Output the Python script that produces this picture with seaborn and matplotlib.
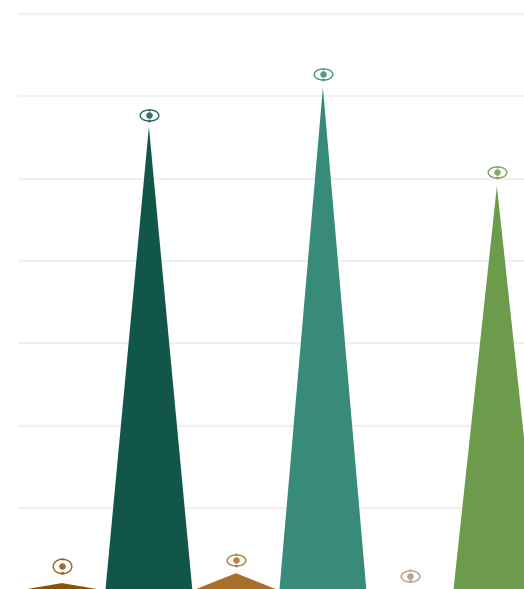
import matplotlib
matplotlib.use("Agg")
import matplotlib.pyplot as plt
import seaborn as sns
import pandas as pd
import numpy as np
from matplotlib.patches import Polygon
from matplotlib.path import Path
from matplotlib.transforms import Affine2D, offset_copy

categories = ["A", "B", "C", "D", "E", "F"]
values = [9, 563, 21, 611, 1, 491]
icon_levels = [30, 577, 37, 627, 18, 508]
colors = ["#8C5109", "#12564A", "#A86E2A", "#378B78", "#B39373", "#6B9B4B"]
grid_ticks = [100, 200, 300, 400, 500, 600, 700]
ring_ratio = [0.78, 0.6, 0.6, 0.6, 0.6, 0.6]

W, H = 524, 589
L, R, T, B = 18.4, 540.4, 14, 590.5

sns.set_theme(style="white")
fig = plt.figure(figsize=(W / 100, H / 100), dpi=100, facecolor="white")
ax = fig.add_axes([L / W, (H - B) / H, (R - L) / W, (B - T) / H])

df = pd.DataFrame({"cat": categories, "val": values})
sns.barplot(data=df, x="cat", y="val", hue="cat", palette=colors, legend=False,
            width=1.0, ax=ax, zorder=3)

# turn the bars into triangles
for patch, col in zip(list(ax.patches), colors):
    x0, w, h = patch.get_x(), patch.get_width(), patch.get_height()
    patch.remove()
    ax.add_patch(Polygon([(x0, 0), (x0 + w / 2, h), (x0 + w, 0)], closed=True,
                         facecolor=col, edgecolor="none", zorder=3))

ax.set_xlim(-0.5, 5.5)
ax.set_ylim(0, 700)
ax.set_yticks(grid_ticks)
ax.yaxis.grid(True, color="#F0F0F0", linewidth=1.5, zorder=0)
for gl in ax.get_ygridlines():
    gl.set_clip_on(False)
    gl.set_solid_capstyle("butt")
ax.xaxis.grid(False)
ax.set_axisbelow(True)
ax.tick_params(left=False, bottom=False, labelleft=False, labelbottom=False)
ax.set_xlabel("")
ax.set_ylabel("")
sns.despine(ax=ax, left=True, bottom=True, top=True, right=True)

# icons above triangles: ring, inner blob, small top and bottom nubs
xs = np.arange(len(categories))
for x, y, col, ratio in zip(xs, icon_levels, colors, ring_ratio):
    ring = Path.unit_circle().transformed(Affine2D().scale(1.0, ratio))
    half_h = 8.5 * ratio
    ax.scatter([x], [y], marker=ring, s=180, facecolor="white",
               edgecolor=col, linewidth=1.0, alpha=0.9, zorder=5)
    ax.scatter([x], [y], marker="o", s=22, color=col, linewidth=0, alpha=0.85, zorder=6)
    up = offset_copy(ax.transData, fig=fig, x=0, y=half_h + 0.5, units="dots")
    down = offset_copy(ax.transData, fig=fig, x=0, y=-(half_h + 0.5), units="dots")
    ax.scatter([x], [y], marker="o", s=3, color=col, linewidth=0, alpha=0.6,
               transform=up, zorder=6)
    ax.scatter([x], [y], marker="v", s=6, color=col, linewidth=0, alpha=0.8,
               transform=down, zorder=6)
ax.set_xlim(-0.5, 5.5)
ax.set_ylim(0, 700)

fig.savefig("out.png", dpi=100, facecolor="white")
